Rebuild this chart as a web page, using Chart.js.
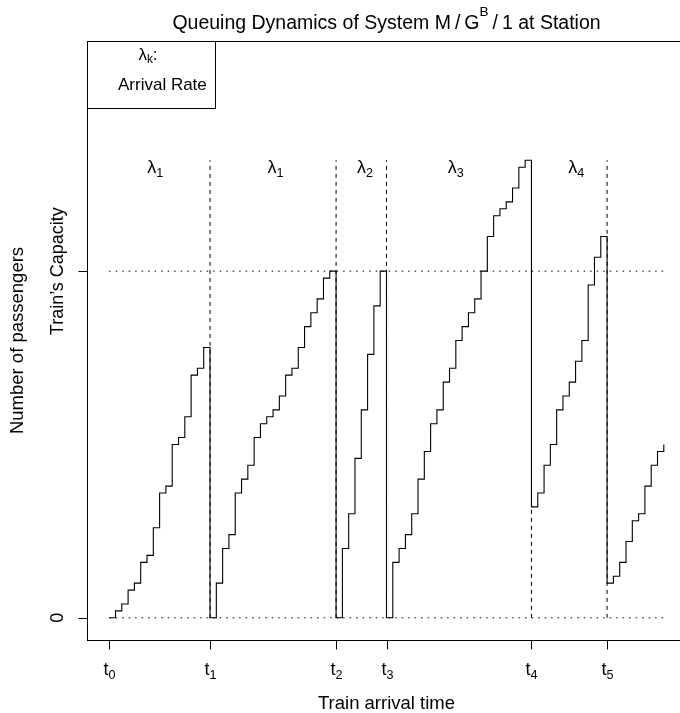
<!DOCTYPE html>
<html>
<head>
<meta charset="utf-8">
<script src="https://cdn.jsdelivr.net/npm/chart.js@4.4.0/dist/chart.umd.min.js"></script>
<style>
  html, body { margin: 0; padding: 0; background: #fff; overflow: hidden; }
  #wrap { width: 680px; height: 713px; overflow: hidden; }
</style>
</head>
<body>
<div id="wrap"><canvas id="queue" width="700" height="713"></canvas></div>
<script>
// time steps and number of waiting passengers
var timeSteps = [0, 1, 2, 3, 4, 5, 6, 7, 8, 9, 10, 11, 12, 13, 14, 15, 16, 17, 18, 19,
  20, 21, 22, 23, 24, 25, 26, 27, 28, 29, 30, 31, 32, 33, 34, 35, 36, 37, 38, 39,
  40, 41, 42, 43, 44, 45, 46, 47, 48, 49, 50, 51, 52, 53, 54, 55, 56, 57, 58, 59,
  60, 61, 62, 63, 64, 65, 66, 67, 68, 69, 70, 71, 72, 73, 74, 75, 76, 77, 78, 79,
  80, 81, 82, 83, 84, 85, 86, 87, 88];
var passengers = [0, 1, 2, 4, 5, 8, 9, 13, 18, 19, 25, 26, 29, 35, 36, 39, 0, 5, 10, 12,
  18, 20, 22, 26, 28, 29, 30, 32, 35, 36, 39, 42, 44, 46, 49, 50, 0, 10, 15, 23,
  30, 38, 45, 50, 0, 8, 10, 12, 15, 20, 24, 28, 30, 34, 36, 40, 42, 44, 46, 50,
  55, 58, 59, 60, 62, 65, 66, 16, 18, 22, 25, 30, 32, 34, 37, 40, 48, 52, 55, 5,
  6, 8, 11, 14, 15, 19, 22, 24, 25];

var trainTimes = [0, 16, 36, 44, 67, 79];
var trainSubs = ["0", "1", "2", "3", "4", "5"];
var capacity = 50;
var dashTop = 66;

var lambdaX = [7.3, 26.4, 40.6, 55.0, 74.1];
var lambdaSubs = ["1", "1", "2", "3", "4"];
var lambdaY = 65;

var FONT = '"Liberation Sans", Arial, Helvetica, sans-serif';

function setFont(ctx, size) {
  ctx.font = size.toFixed(1) + "px " + FONT;
}

function richWidth(ctx, runs, size) {
  var w = 0;
  runs.forEach(function (r) {
    setFont(ctx, size * (r.s || 1));
    w += ctx.measureText(r.t).width + (r.gap || 0) * 2;
  });
  return w;
}

// draws text pieces in a row, centred on x (sub/superscripts via s and dy)
function drawRich(ctx, runs, x, y, size) {
  var cx = x - richWidth(ctx, runs, size) / 2;
  ctx.textAlign = "left";
  ctx.textBaseline = "alphabetic";
  runs.forEach(function (r) {
    setFont(ctx, size * (r.s || 1));
    cx += r.gap || 0;
    ctx.fillText(r.t, cx, y + (r.dy || 0) * size);
    cx += ctx.measureText(r.t).width + (r.gap || 0);
  });
}

var rPlot = {
  id: "rPlot",
  afterDraw: function (chart) {
    var ctx = chart.ctx;
    var a = chart.chartArea;
    var xs = chart.scales.x;
    var ys = chart.scales.y;
    ctx.save();
    ctx.strokeStyle = "#000";
    ctx.fillStyle = "#000";
    ctx.lineWidth = 1;

    // frame
    ctx.strokeRect(Math.round(a.left) + 0.5, Math.round(a.top) + 0.5,
      Math.round(a.right - a.left), Math.round(a.bottom - a.top));

    // x ticks
    var yb = Math.round(a.bottom) + 0.5;
    trainTimes.forEach(function (t, i) {
      var px = Math.round(xs.getPixelForValue(t)) + 0.5;
      ctx.beginPath();
      ctx.moveTo(px, yb);
      ctx.lineTo(px, yb + 9);
      ctx.stroke();
      drawRich(ctx, [{ t: "t" }, { t: trainSubs[i], s: 0.7, dy: 0.2 }], px, 675, 18);
    });

    // y ticks
    var xl = Math.round(a.left) + 0.5;
    [0, capacity].forEach(function (v) {
      var py = Math.round(ys.getPixelForValue(v)) + 0.5;
      ctx.beginPath();
      ctx.moveTo(xl, py);
      ctx.lineTo(xl - 9, py);
      ctx.stroke();
    });
    var yLabels = [[0, "0"], [capacity, "Train\u2019s Capacity"]];
    yLabels.forEach(function (p) {
      ctx.save();
      ctx.translate(63, ys.getPixelForValue(p[0]));
      ctx.rotate(-Math.PI / 2);
      drawRich(ctx, [{ t: p[1] }], 0, 0, 18);
      ctx.restore();
    });

    // lambda labels
    lambdaX.forEach(function (t, i) {
      drawRich(ctx, [{ t: "\u03bb" }, { t: lambdaSubs[i], s: 0.7, dy: 0.2 }],
        xs.getPixelForValue(t), ys.getPixelForValue(lambdaY) + 6, 18);
    });

    // legend box
    ctx.strokeRect(xl, Math.round(a.top) + 0.5, 128, 67);
    drawRich(ctx, [{ t: "\u03bb" }, { t: "k", s: 0.7, dy: 0.2 }, { t: ":" }], 148, 60, 17);
    setFont(ctx, 17);
    ctx.textAlign = "left";
    ctx.fillText("Arrival Rate", 118, 90);

    // titles
    var midX = (a.left + a.right) / 2;
    drawRich(ctx, [
      { t: "Queuing Dynamics of System M" },
      { t: "/", gap: 4 },
      { t: "G" },
      { t: "B", s: 0.7, dy: -0.65 },
      { t: "/", gap: 4 },
      { t: "1 at Station" }
    ], midX, 29, 19.5);
    drawRich(ctx, [{ t: "Train arrival time" }], midX, 709, 18.5);
    ctx.translate(23, (a.top + a.bottom) / 2);
    ctx.rotate(-Math.PI / 2);
    drawRich(ctx, [{ t: "Number of passengers" }], 0, 0, 18.5);
    ctx.restore();
  }
};

var datasets = [];
trainTimes.slice(1).forEach(function (t) {
  datasets.push({
    data: [{ x: t, y: 0 }, { x: t, y: dashTop }],
    borderColor: "#000", borderWidth: 1, borderDash: [4, 4], pointRadius: 0
  });
});
[0, capacity].forEach(function (v) {
  datasets.push({
    data: [{ x: timeSteps[0], y: v }, { x: timeSteps[timeSteps.length - 1], y: v }],
    borderColor: "#000", borderWidth: 1, borderDash: [1.5, 5], pointRadius: 0
  });
});
datasets.push({
  data: timeSteps.map(function (t, i) { return { x: t, y: passengers[i] }; }),
  borderColor: "#000", borderWidth: 1.1, stepped: "before", pointRadius: 0, fill: false
});

new Chart(document.getElementById("queue"), {
  type: "line",
  data: { datasets: datasets },
  options: {
    responsive: false,
    animation: false,
    layout: { padding: { left: 87, top: 41, right: 14, bottom: 73 } },
    scales: {
      x: { type: "linear", min: -3.52, max: 91.52, display: false },
      y: { type: "linear", min: -3.2, max: 83.2, display: false }
    },
    plugins: { legend: { display: false }, tooltip: { enabled: false } }
  },
  plugins: [rPlot]
});
</script>
</body>
</html>
